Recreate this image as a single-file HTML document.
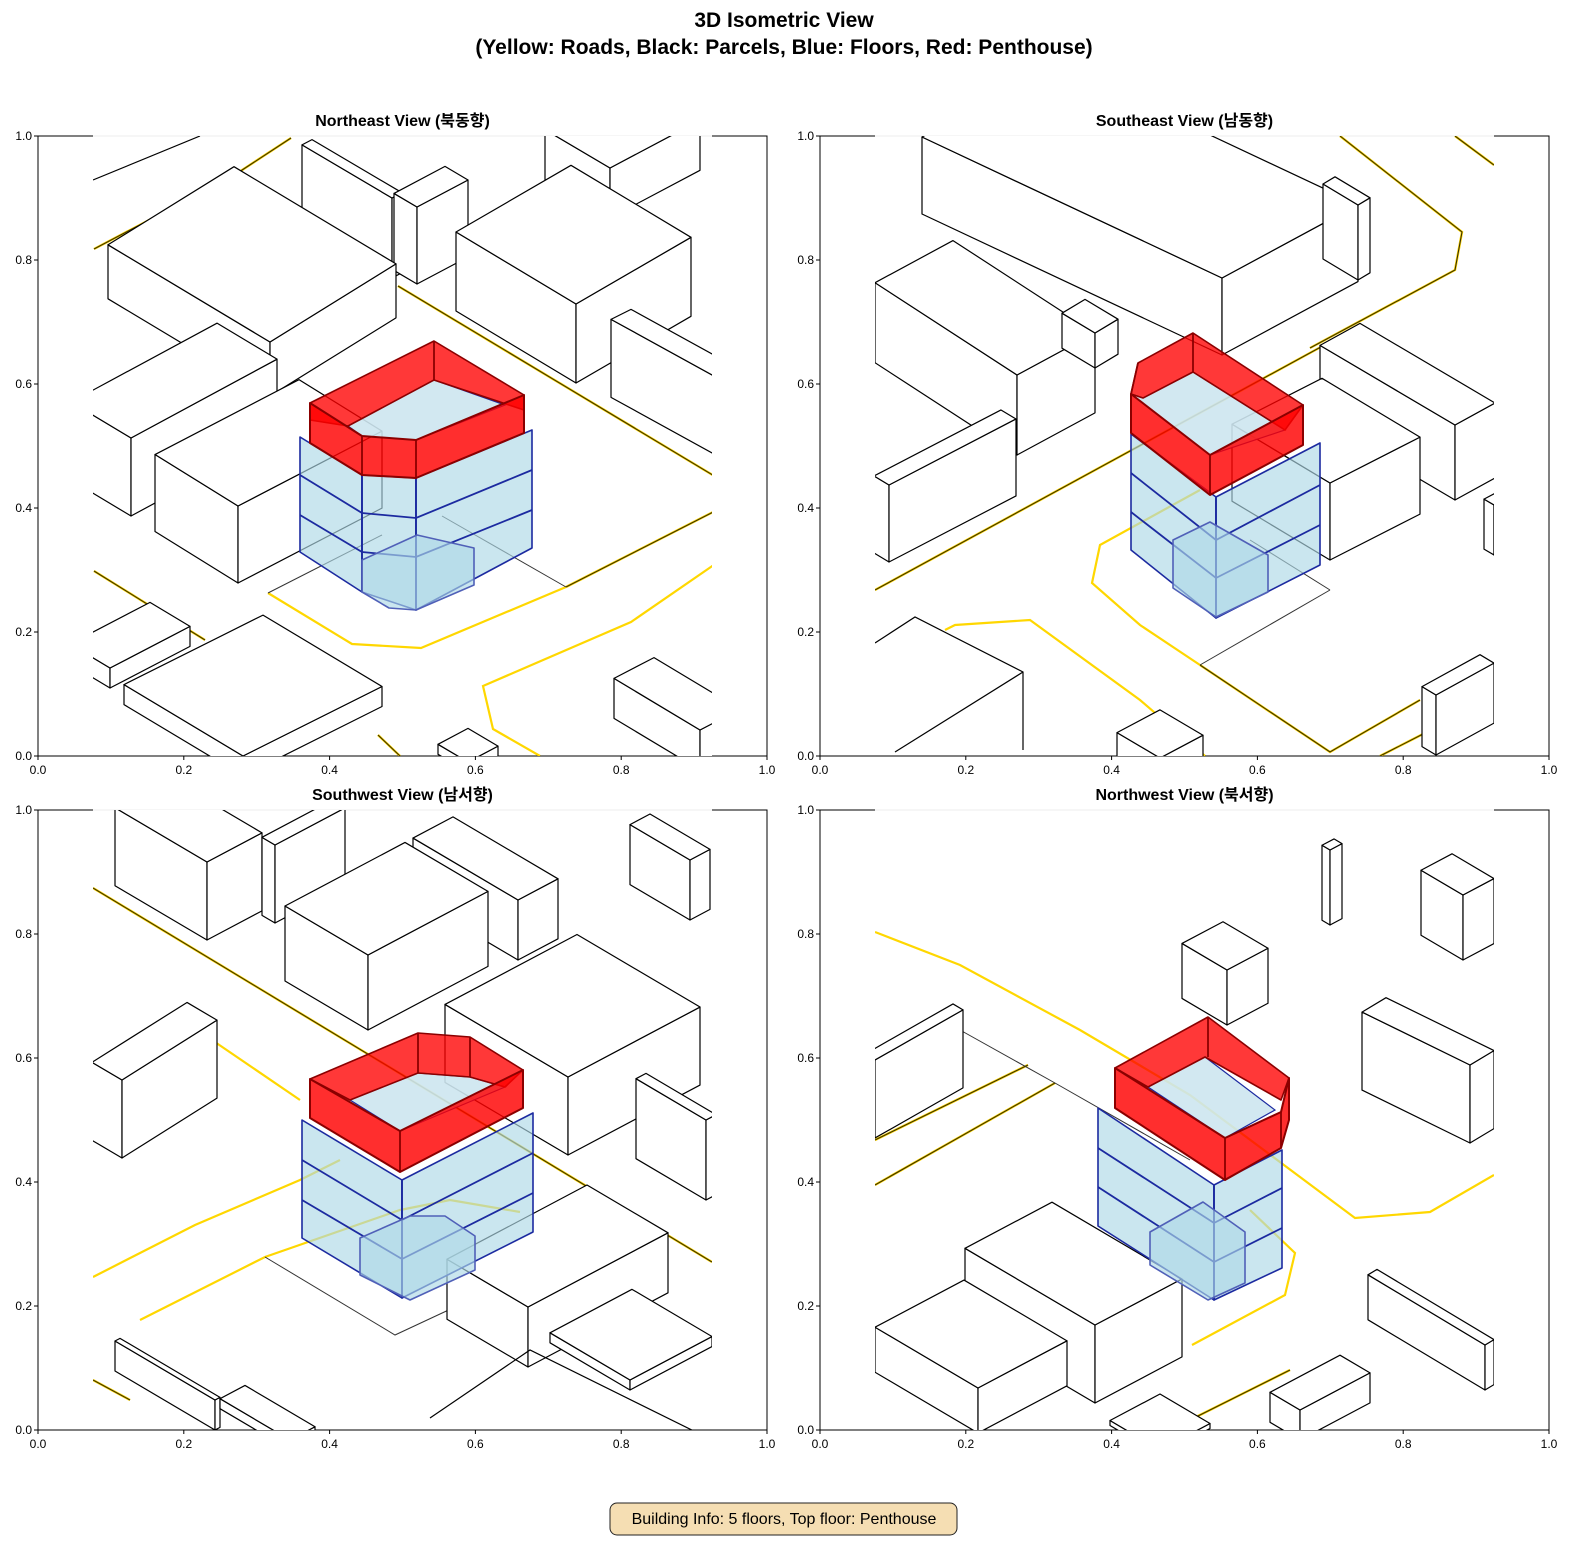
<!DOCTYPE html>
<html><head><meta charset="utf-8">
<style>
html,body{margin:0;padding:0;background:#fff;}
svg{display:block;font-family:"Liberation Sans","Noto Sans CJK KR",sans-serif;}
.t{font-size:12px;fill:#000}
.ti{font-size:16px;font-weight:bold;fill:#000}
</style></head>
<body>
<svg id="s" width="1590" height="1560" viewBox="0 0 1590 1560" xmlns="http://www.w3.org/2000/svg">
<defs>
<clipPath id="c1"><rect x="93" y="136" width="619" height="620"/></clipPath>
<clipPath id="c2"><rect x="875" y="136" width="619" height="620"/></clipPath>
<clipPath id="c3"><rect x="93" y="810" width="619" height="620"/></clipPath>
<clipPath id="c4"><rect x="875" y="810" width="619" height="620"/></clipPath>
</defs>
<rect width="1590" height="1560" fill="#fff"/>
<text x="784" y="27" text-anchor="middle" style="font-size:21px;font-weight:bold">3D Isometric View</text>
<text x="784" y="54" text-anchor="middle" style="font-size:21px;font-weight:bold">(Yellow: Roads, Black: Parcels, Blue: Floors, Red: Penthouse)</text>
<g id="axes"></g>
<g id="g1" clip-path="url(#c1)"></g>
<g id="g2" clip-path="url(#c2)"></g>
<g id="g3" clip-path="url(#c3)"></g>
<g id="g4" clip-path="url(#c4)"></g>
<rect x="610" y="1503" width="347" height="32" rx="7" fill="#f5deb3" stroke="#222" stroke-width="1"/>
<text x="784" y="1524" text-anchor="middle" style="font-size:16px">Building Info: 5 floors, Top floor: Penthouse</text>
</svg>
<script>
var NS="http://www.w3.org/2000/svg";
function el(p,n,a,txt){var e=document.createElementNS(NS,n);for(var k in a)e.setAttribute(k,a[k]);if(txt)e.textContent=txt;p.appendChild(e);return e;}
function pts(a){return a.map(function(p){return p[0]+","+p[1];}).join(" ");}
var ax=document.getElementById("axes");
var panels=[[38,136,"Northeast View (북동향)"],[820,136,"Southeast View (남동향)"],[38,810,"Southwest View (남서향)"],[820,810,"Northwest View (북서향)"]];
panels.forEach(function(p){
  var x=p[0],y=p[1],w=729,h=620;
  el(ax,"rect",{x:x,y:y,width:w,height:h,fill:"#fff",stroke:"#000","stroke-width":1});
  el(ax,"rect",{x:x+55,y:y-0.5,width:619,height:3,fill:"#fff"});
  el(ax,"line",{x1:x+55,y1:y,x2:x+674,y2:y,stroke:"#eee","stroke-width":1});
  el(ax,"text",{x:x+w/2,y:y-10,"text-anchor":"middle","class":"ti"},p[2]);
  for(var i=0;i<=5;i++){
    var t=(i*0.2).toFixed(1);
    var tx=x+w*i/5;
    el(ax,"line",{x1:tx,y1:y+h,x2:tx,y2:y+h+4,stroke:"#000"});
    el(ax,"text",{x:tx,y:y+h+18,"text-anchor":"middle","class":"t"},t);
    var ty=y+h-h*i/5;
    el(ax,"line",{x1:x-4,y1:ty,x2:x,y2:ty,stroke:"#000"});
    el(ax,"text",{x:x-6,y:ty+4,"text-anchor":"end","class":"t"},t);
  }
});
function box(g,fx,fy,a,b,h,sa,sb){
  sa=sa||0.59;sb=sb||0.53;
  var F=[fx,fy],L=[fx-a,fy-a*sa],R=[fx+b,fy-b*sb],B=[fx-a+b,fy-a*sa-b*sb];
  var st={fill:"#fff",stroke:"#000","stroke-width":1.2,"stroke-linejoin":"round"};
  el(g,"polygon",Object.assign({points:pts([F,L,[L[0],L[1]+h],[F[0],F[1]+h]])},st));
  el(g,"polygon",Object.assign({points:pts([F,R,[R[0],R[1]+h],[F[0],F[1]+h]])},st));
  el(g,"polygon",Object.assign({points:pts([F,L,B,R])},st));
}
function road(g,p,dark){
  if(dark){el(g,"polyline",{points:pts(p),fill:"none",stroke:"#ffd700","stroke-width":2.4});
           el(g,"polyline",{points:pts(p),fill:"none",stroke:"#3a3000","stroke-width":1.1});}
  else el(g,"polyline",{points:pts(p),fill:"none",stroke:"#ffd700","stroke-width":2.2});
}
function line(g,p,c,w){el(g,"polyline",{points:pts(p),fill:"none",stroke:c||"#000","stroke-width":w||1.2});}
function target(g,T){
  var bf={fill:"rgba(173,216,230,0.65)",stroke:"#1c2aa0","stroke-width":1.6,"stroke-linejoin":"round"};
  T.blue.forEach(function(p){el(g,"polygon",Object.assign({points:pts(p)},bf));});
  T.lines.forEach(function(p){line(g,p,"#1c2aa0",1.8);});
  T.annex.forEach(function(p){el(g,"polygon",Object.assign({points:pts(p)},bf,{stroke:"#5060b8"}));});
  el(g,"polygon",{points:pts(T.hole),fill:"rgba(205,230,240,0.9)",stroke:"#1c2aa0","stroke-width":1.2});
  el(g,"polygon",{points:pts(T.back),fill:"rgba(255,0,0,0.78)",stroke:"#8b0000","stroke-width":1.6,"stroke-linejoin":"round"});
  el(g,"polygon",{points:pts(T.front),fill:"rgba(255,0,0,0.82)",stroke:"#8b0000","stroke-width":2,"stroke-linejoin":"round"});
  (T.verts||[]).forEach(function(p){line(g,p,"#8b0000",1.8);});
}
/* ---------- NE ---------- */
var g=document.getElementById("g1");
road(g,[[94,249],[233,176],[291,138]],true);
road(g,[[398,286],[721,480]],true);
road(g,[[721,508],[566,587]],true);
road(g,[[94,571],[205,640]],true);
road(g,[[378,735],[400,756]],true);
road(g,[[566,587],[421,648],[352,644],[268,593]]);
road(g,[[721,560],[631,622],[483,686],[493,729],[540,756]]);
line(g,[[268,593],[382,535]],"#333",1);
line(g,[[442,516],[566,587]],"#333",1);
line(g,[[93,180],[200,136]]);
box(g,610,168,65,90,50);
box(g,392,198,90,10,80);
box(g,417,207,23,51,77);
box(g,576,304,120,115,79,0.6,0.58);
box(g,270,342,162,126,54,0.6,0.62);
box(g,131,438,60,146,78,0.6,0.54);
box(g,714,376,103,20,78,0.55,0.5);
box(g,238,506,83,144,77,0.62,0.52);
box(g,110,668,40,80,20,0.6,0.52);
box(g,700,730,86,40,40,0.6,0.52);
box(g,468,762,30,30,10);
box(g,243,756,119,139,20,0.6,0.5);
target(g,{
 blue:[[[300,437],[362,475],[362,592],[300,552]],[[362,475],[416,478],[416,610],[362,592]],[[416,478],[532,430],[532,548],[416,610]]],
 lines:[[[300,475],[362,513],[416,518],[532,470]],[[300,515],[362,552],[416,557],[532,510]],[[362,475],[362,592]],[[416,478],[416,610]]],
 annex:[[[362,560],[417,535],[474,548],[474,585],[416,610],[389,608],[362,592]]],
 hole:[[348,426],[434,380],[505,405],[416,440],[362,436]],
 back:[[310,403],[434,341],[524,395],[524,410],[434,380],[348,426],[310,420]],
 front:[[310,403],[362,436],[416,440],[524,395],[524,433],[416,478],[362,475],[310,443]],
 verts:[[[434,341],[434,380]],[[362,436],[362,475]],[[416,440],[416,478]]]
});
/* ---------- SE ---------- */
g=document.getElementById("g2");
road(g,[[875,590],[1330,342]],true);
road(g,[[1340,136],[1462,232],[1455,270],[1310,348]],true);
road(g,[[1455,136],[1494,165]],true);
road(g,[[1200,665],[1330,752],[1420,700]],true);
road(g,[[1380,756],[1425,733]],true);
road(g,[[1200,490],[1100,545],[1092,583],[1140,625],[1200,665]]);
road(g,[[945,630],[955,625],[1030,620],[1140,700],[1205,756]]);
line(g,[[1200,665],[1330,590]],"#333",1);
line(g,[[1250,540],[1330,590]],"#333",1);
box(g,1222,278,300,136,77,0.47,0.54);
box(g,1358,205,35,12,75,0.6,0.6);
box(g,1017,375,142,78,80,0.65,0.54);
box(g,1095,333,33,23,35,0.6,0.6);
box(g,889,485,15,127,77,0.6,0.52);
box(g,1455,425,135,40,75,0.59,0.55);
box(g,1330,483,98,90,77,0.6,0.51);
box(g,1494,505,10,20,50);
line(g,[[875,643],[915,617],[1023,672],[1023,750]]);
line(g,[[1023,672],[895,752]]);
box(g,1160,758,43,43,30);
box(g,1436,695,14,58,60,0.6,0.55);
target(g,{
 blue:[[[1131,434],[1216,497],[1216,618],[1131,550]],[[1216,497],[1320,443],[1320,565],[1216,618]]],
 lines:[[[1131,473],[1216,540],[1320,485]],[[1131,512],[1216,578],[1320,525]],[[1216,497],[1216,618]]],
 annex:[[[1173,540],[1210,522],[1268,555],[1268,592],[1216,617],[1173,588]]],
 hole:[[1143,398],[1193,372],[1285,430],[1210,455],[1131,394]],
 back:[[1138,363],[1193,333],[1303,405],[1285,430],[1193,372],[1143,398],[1131,394]],
 front:[[1131,394],[1210,455],[1303,405],[1303,445],[1210,495],[1131,433]],
 verts:[[[1193,333],[1193,372]],[[1210,455],[1210,495]],[[1138,363],[1131,394]]]
});
/* ---------- SW ---------- */
g=document.getElementById("g3");
road(g,[[93,888],[712,1262]],true);
road(g,[[93,1380],[130,1400]],true);
road(g,[[93,1277],[195,1225],[300,1180],[340,1160]]);
road(g,[[140,1320],[265,1257],[400,1210],[450,1200],[520,1212]]);
road(g,[[190,1025],[300,1100]]);
line(g,[[265,1257],[395,1335],[470,1300]],"#333",1);
box(g,518,900,105,40,60);
box(g,207,862,92,55,78);
box(g,275,845,13,70,78);
box(g,690,860,60,20,60);
box(g,368,955,83,120,75);
box(g,122,1080,30,95,78,0.59,0.63);
box(g,568,1077,123,132,78);
box(g,706,1120,70,10,80);
box(g,528,1307,81,140,60);
box(g,630,1380,80,82,10);
box(g,215,1400,100,5,30);
box(g,290,1440,70,25,10);
line(g,[[430,1418],[530,1350],[712,1440]]);
target(g,{
 blue:[[[302,1120],[402,1180],[402,1298],[302,1238]],[[402,1180],[533,1113],[533,1232],[402,1298]]],
 lines:[[[302,1160],[402,1220],[533,1153]],[[302,1200],[402,1259],[533,1193]],[[402,1180],[402,1298]]],
 annex:[[[360,1238],[410,1216],[445,1216],[475,1236],[475,1270],[410,1300],[360,1275]]],
 hole:[[350,1100],[418,1073],[470,1077],[505,1087],[400,1131]],
 back:[[310,1079],[418,1033],[470,1037],[523,1070],[505,1087],[470,1077],[418,1073],[350,1100]],
 front:[[310,1079],[400,1131],[523,1070],[523,1108],[400,1172],[310,1118]],
 verts:[[[418,1033],[418,1073]],[[470,1037],[470,1077]],[[400,1131],[400,1172]]]
});
/* ---------- NW ---------- */
g=document.getElementById("g4");
road(g,[[875,1140],[1028,1065]],true);
road(g,[[875,1185],[1055,1083]],true);
road(g,[[1190,1420],[1290,1370]],true);
road(g,[[875,932],[960,965],[1080,1030],[1190,1095],[1355,1218],[1430,1212],[1494,1175]]);
road(g,[[1250,1210],[1295,1253],[1285,1295],[1192,1345]]);
line(g,[[960,1030],[1055,1083],[1190,1160]],"#333",1);
box(g,1330,850,8,12,75);
box(g,1463,895,42,31,65);
box(g,1227,970,45,41,55);
box(g,875,1060,10,88,78,0.59,0.57);
box(g,1470,1065,108,24,78,0.49,0.6);
box(g,1095,1325,130,87,78);
box(g,978,1388,103,89,45);
box(g,1485,1345,117,9,45,0.6,0.6);
box(g,1300,1410,30,70,30);
box(g,1160,1450,50,50,5);
target(g,{
 blue:[[[1098,1108],[1214,1185],[1214,1300],[1098,1226]],[[1214,1185],[1282,1150],[1282,1268],[1214,1300]]],
 lines:[[[1098,1148],[1214,1223],[1282,1188]],[[1098,1187],[1214,1262],[1282,1228]],[[1214,1185],[1214,1300]]],
 annex:[[[1150,1232],[1203,1202],[1245,1232],[1245,1283],[1208,1300],[1150,1265]]],
 hole:[[1148,1087],[1205,1057],[1275,1110],[1225,1138]],
 back:[[1115,1068],[1208,1017],[1289,1078],[1281,1100],[1205,1057],[1148,1087]],
 front:[[1115,1068],[1225,1138],[1281,1112],[1289,1078],[1289,1120],[1281,1148],[1225,1180],[1115,1108]],
 verts:[[[1208,1017],[1208,1057]],[[1225,1138],[1225,1180]],[[1281,1112],[1281,1148]]]
});
</script>
</body></html>
